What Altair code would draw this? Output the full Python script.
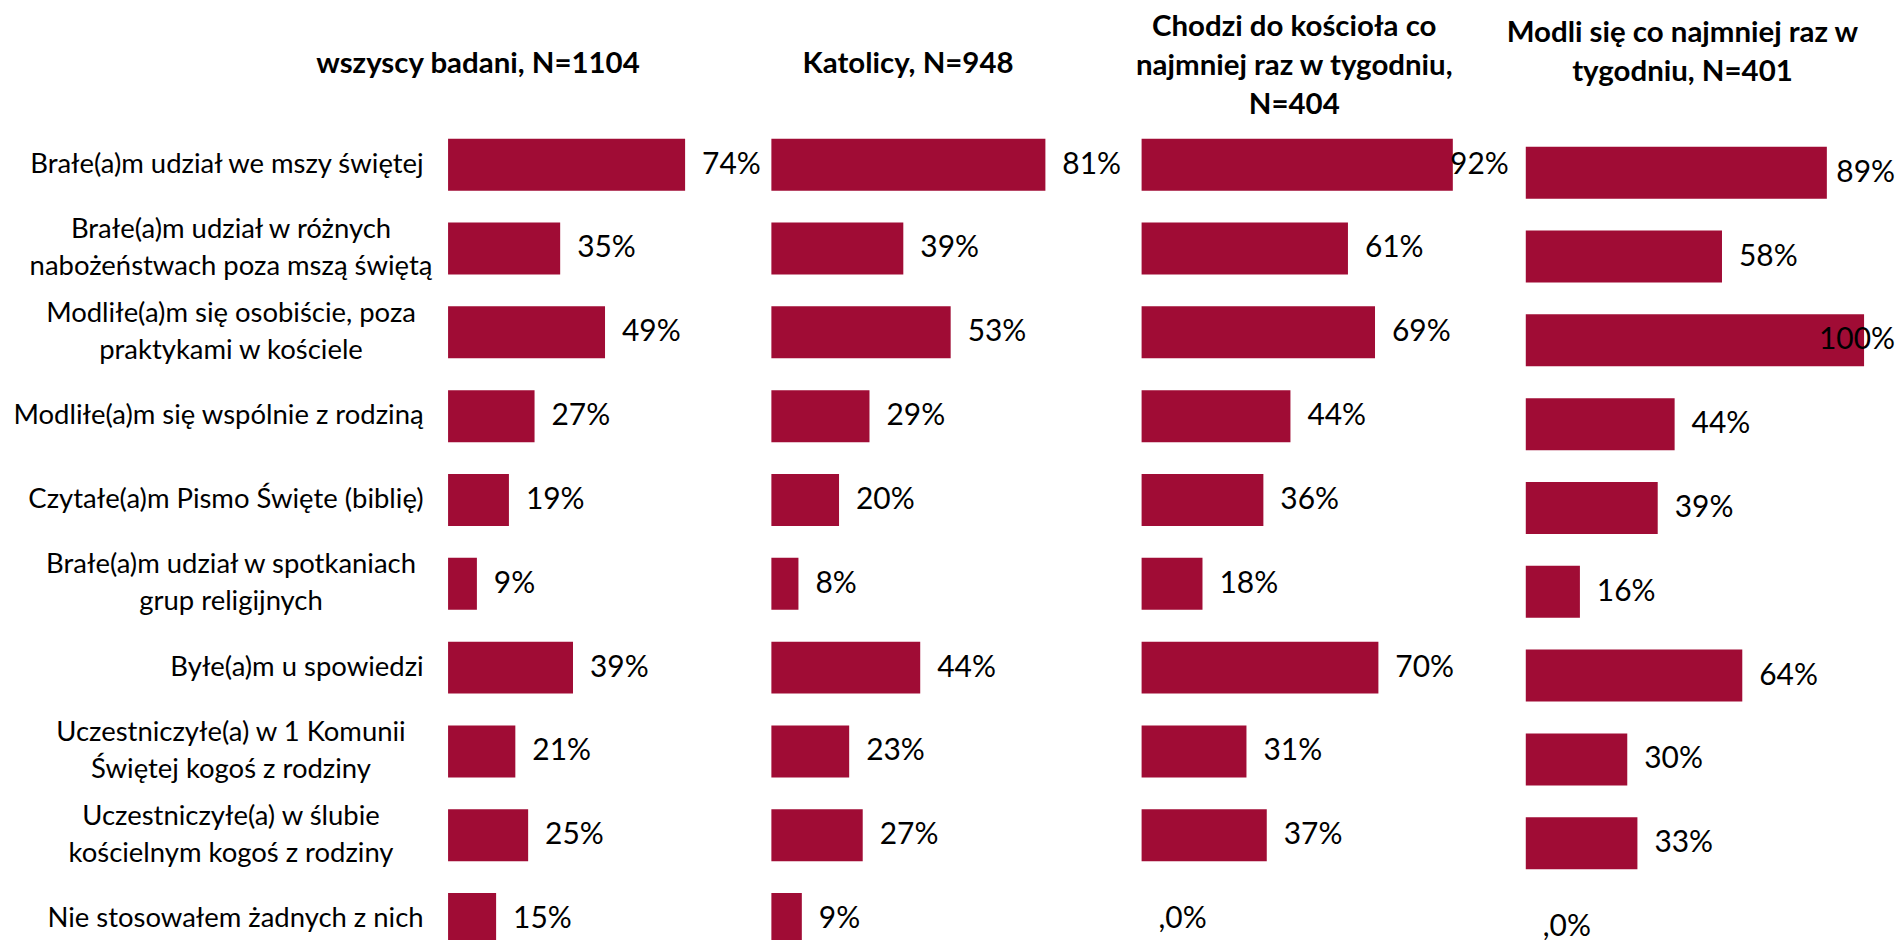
import altair as alt
import pandas as pd

# ---------------- data ----------------
CATEGORIES = [
    "Brałe(a)m udział we mszy świętej",
    "Brałe(a)m udział w różnych\nnabożeństwach poza mszą świętą",
    "Modliłe(a)m się osobiście, poza\npraktykami w kościele",
    "Modliłe(a)m się wspólnie z rodziną",
    "Czytałe(a)m Pismo Święte (biblię)",
    "Brałe(a)m udział w spotkaniach\ngrup religijnych",
    "Byłe(a)m u spowiedzi",
    "Uczestniczyłe(a) w 1 Komunii\nŚwiętej kogoś z rodziny",
    "Uczestniczyłe(a) w ślubie\nkościelnym kogoś z rodziny",
    "Nie stosowałem żadnych z nich",
]
ALL_RESP = [74, 35, 49, 27, 19, 9, 39, 21, 25, 15]
CATHOLICS = [81, 39, 53, 29, 20, 8, 44, 23, 27, 9]
WEEKLY_CHURCH = [92, 61, 69, 44, 36, 18, 70, 31, 37, 0]
WEEKLY_PRAYER = [89, 58, 100, 44, 39, 16, 64, 30, 33, 0]

TITLES = [
    ["wszyscy badani, N=1104"],
    ["Katolicy, N=948"],
    ["Chodzi do kościoła co", "najmniej raz w tygodniu,", "N=404"],
    ["Modli się co najmniej raz w", "tygodniu, N=401"],
]


def pct_labels(vals):
    return [f"{v}%" if v else ",0%" for v in vals]


# ---------------- style ----------------
RED = "#A00C35"
FONT = "Lato"
LABEL_FS = 27.5
VALUE_FS = 30
TITLE_FS = 29.5
PAD_IN = 0.38
MULTI = "indexof(datum.value, '\\n') >= 0"


def panel(values, title, width, ppu, height, pad_outer, title_dx, title_offset,
          show_axis=False, cap_px=None):
    df = pd.DataFrame({"cat": CATEGORIES, "v": values, "lab": pct_labels(values)})
    xmax = width / ppu
    xs = alt.Scale(domain=[0, xmax], nice=False, zero=True)
    if show_axis:
        yaxis = alt.Axis(
            labelExpr="split(datum.label, '\\n')",
            labelAlign={"condition": {"test": MULTI, "value": "center"}, "value": "right"},
            labelPadding={"condition": {"test": MULTI, "value": 218}, "value": 25},
            labelOffset={"condition": {"test": MULTI, "value": -18.5}, "value": 0},
            labelFont=FONT, labelFontSize=LABEL_FS, labelColor="black",
            labelLineHeight=37, labelLimit=800,
            ticks=False, tickSize=0, domain=False, grid=False, title=None,
        )
    else:
        yaxis = None
    ys = alt.Scale(paddingInner=PAD_IN, paddingOuter=pad_outer)
    y = alt.Y("cat:N", sort=CATEGORIES, scale=ys, axis=yaxis, title=None)
    base = alt.Chart(df)
    bars = base.mark_bar(color=RED).encode(
        x=alt.X("v:Q", scale=xs, axis=None), y=y)
    layers = [bars]
    txt = dict(font=FONT, fontSize=VALUE_FS, color="black", baseline="middle")
    if cap_px is None:
        lab = base.mark_text(align="left", dx=17, **txt).encode(
            x=alt.X("v:Q", scale=xs, axis=None), y=y, text="lab:N")
        layers.append(lab)
    else:
        over = f"datum.v * {ppu} + 17 + length(datum.lab) * 19.5 > {cap_px}"
        lab = base.transform_filter(f"!({over})").mark_text(
            align="left", dx=17, **txt).encode(
            x=alt.X("v:Q", scale=xs, axis=None), y=y, text="lab:N")
        lab_over = base.transform_filter(over).mark_text(
            align="right", **txt).encode(
            x=alt.datum(cap_px / ppu, scale=xs, axis=None), y=y, text="lab:N")
        layers += [lab, lab_over]
    return alt.layer(*layers).properties(
        width=width, height=height,
        title=alt.TitleParams(
            text=title, anchor="start", frame="group", align="center",
            dx=title_dx, offset=title_offset, font=FONT, fontSize=TITLE_FS,
            fontWeight="bold", lineHeight=39, color="black"),
    )


p1 = panel(ALL_RESP, TITLES[0], 324, 3.21, 840, PAD_IN / 2, 30, 43, show_axis=True)
p2 = panel(CATHOLICS, TITLES[1], 371, 3.39, 840, PAD_IN / 2, 137, 43)
p3 = panel(WEEKLY_CHURCH, TITLES[2], 385, 3.39, 840, PAD_IN / 2, 153, 2, cap_px=368)
p4 = panel(WEEKLY_PRAYER, TITLES[3], 370, 3.39, 856, 0.286, 157, 35, cap_px=370)

chart = alt.hconcat(p1, p2, p3, p4, spacing=0, bounds="flush").properties(
    padding={"left": 4, "top": 3, "right": 0, "bottom": 0}
).configure_view(stroke=None)

chart.save("out.html", embed_options={"renderer": "svg", "actions": False})
